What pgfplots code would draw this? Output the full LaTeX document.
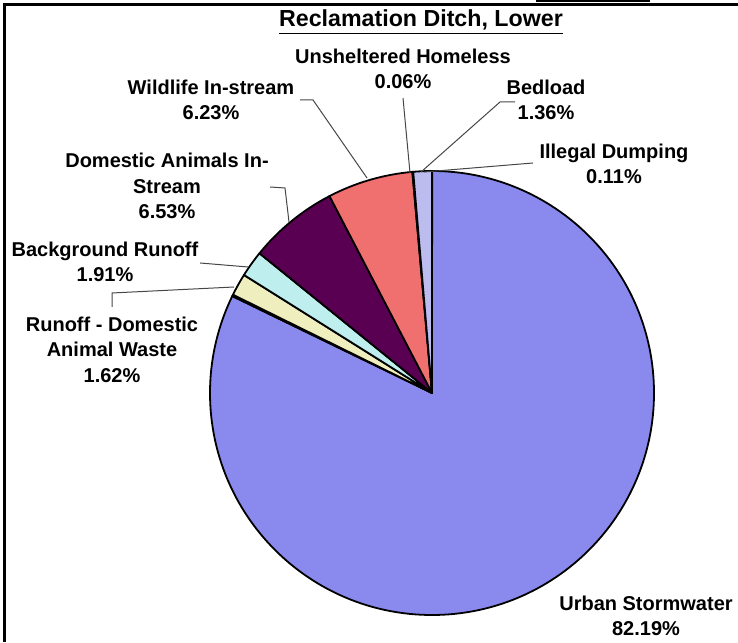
\documentclass[border=0pt]{standalone}
\usepackage{pgfplots}
\usepackage{pgfplotstable}
\pgfplotsset{compat=1.18}
\usepackage{fontspec}
\setmainfont{Liberation Sans}

\definecolor{cUrban}{RGB}{138,138,238}
\definecolor{cIllegal}{RGB}{153,51,102}
\definecolor{cRunoff}{RGB}{238,238,190}
\definecolor{cBack}{RGB}{190,238,238}
\definecolor{cDomestic}{RGB}{90,0,82}
\definecolor{cWild}{RGB}{240,112,112}
\definecolor{cHomeless}{RGB}{0,96,200}
\definecolor{cBedload}{RGB}{188,188,238}
\definecolor{leader}{RGB}{70,70,70}

\tikzset{lbl/.style={font=\fontsize{10}{12.6}\selectfont\bfseries, align=center, inner sep=0pt, text=black}}

% shares in percent, clockwise from 12 o'clock
\pgfplotstableread{
pct   col
82.19 cUrban
0.11  cIllegal
1.62  cRunoff
1.91  cBack
6.53  cDomestic
6.23  cWild
0.06  cHomeless
1.36  cBedload
}\piedata

\begin{document}
\begin{tikzpicture}
\begin{axis}[
    hide axis,
    x=0.5pt, y=0.5pt,
    xmin=0, xmax=738, ymin=0, ymax=642,
    clip=false,
]
\addplot[draw=none] coordinates {(0,0) (738,642)};
\coordinate (BL) at (axis cs:0,0);
\coordinate (TR) at (axis cs:738,642);

% pie wedges
\pgfplotsextra{
  \gdef\angstart{90}
  \pgfplotstablegetrowsof{\piedata}
  \pgfmathtruncatemacro\nrows{\pgfplotsretval-1}
  \foreach \i in {0,...,\nrows}{
    \pgfplotstablegetelem{\i}{pct}\of\piedata \let\p\pgfplotsretval
    \pgfplotstablegetelem{\i}{col}\of\piedata \let\c\pgfplotsretval
    \pgfmathsetmacro\angend{\angstart-3.6*\p}
    \filldraw[fill=\c, draw=black, line width=0.9pt, line join=round]
      (axis cs:432,249) -- ++(\angstart:111pt)
      arc[start angle=\angstart, end angle=\angend, radius=111pt] -- cycle;
    \global\let\angstart\angend
  }
}

% frame remnants
\draw[line width=1.35pt] (axis cs:4.7,0) -- (axis cs:4.7,637.8) -- (axis cs:738,637.8);
\draw[line width=1pt] (axis cs:536,641.2) -- (axis cs:650,641.2);

% leader lines
\draw[leader, line width=0.5pt] (axis cs:300,542) -- (axis cs:313,542) -- (axis cs:367,464);
\draw[leader, line width=0.5pt] (axis cs:403,544) -- (axis cs:410,469);
\draw[leader, line width=0.5pt] (axis cs:515,540) -- (axis cs:500,540) -- (axis cs:421,470);
\draw[leader, line width=0.5pt] (axis cs:533,479) -- (axis cs:424,470);
\draw[leader, line width=0.5pt] (axis cs:270,455) -- (axis cs:285,454) -- (axis cs:289,420);
\draw[leader, line width=0.5pt] (axis cs:200,379) -- (axis cs:248,375);
\draw[leader, line width=0.5pt] (axis cs:112,335) -- (axis cs:112,349) -- (axis cs:234,355);

% labels
\node[lbl, font=\fontsize{11.6}{13}\selectfont\bfseries] at (axis cs:421,620) {\underline{Reclamation Ditch, Lower}};
\node[lbl] at (axis cs:403,573.5) {Unsheltered Homeless\\0.06\%};
\node[lbl] at (axis cs:211,542) {Wildlife In-stream\\6.23\%};
\node[lbl] at (axis cs:546,542) {Bedload\\1.36\%};
\node[lbl] at (axis cs:614,478) {Illegal Dumping\\0.11\%};
\node[lbl] at (axis cs:167,456) {Domestic Animals In-\\Stream\\6.53\%};
\node[lbl] at (axis cs:105,380.5) {Background Runoff\\1.91\%};
\node[lbl] at (axis cs:112,292.3) {Runoff - Domestic\\Animal Waste\\1.62\%};
\node[lbl] at (axis cs:646,26.5) {Urban Stormwater\\82.19\%};
\end{axis}
\pgfresetboundingbox
\path (BL) rectangle (TR);
\end{tikzpicture}
\end{document}
